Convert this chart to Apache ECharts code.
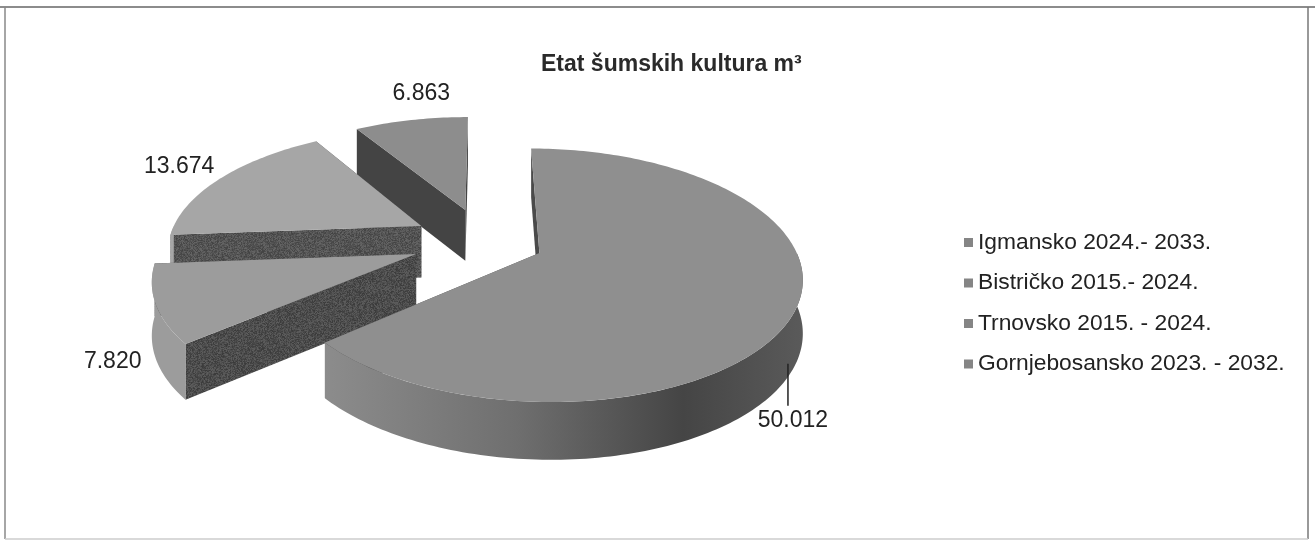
<!DOCTYPE html>
<html>
<head>
<meta charset="utf-8">
<style>html,body{margin:0;padding:0;background:#fff}#chart{width:1315px;height:541px}</style>
<script src="https://cdn.jsdelivr.net/npm/echarts@6/dist/echarts.min.js"></script>
</head>
<body>
<div id="chart"></div>
<script>
var categories = ['Igmansko 2024.- 2033.', 'Bistričko 2015.- 2024.', 'Trnovsko 2015. - 2024.', 'Gornjebosansko 2023. - 2032.'];
var values = [50012, 7820, 13674, 6863];
var valueLabels = ['50.012', '7.820', '13.674', '6.863'];

// 3D look: world disc seen through a simple perspective
var cx = 484, cy = 241, radius = 253, tilt = 0.469, dist = 5.8, depth = 52;
var explode = [60, 72, 72, 72];
var topColors = ['#8f8f8f', '#9c9c9c', '#a6a6a6', '#8d8d8d'];
var labelOffset = [[-3, 112], [-43, 58], [-42, -11], [10, -26]];
var drawOrder = [3, 2, 1, 0];

var total = values.reduce(function (a, b) { return a + b; }, 0);

// print grain of the scan on the dark faces
function grain(base, spread) {
    var c = document.createElement('canvas');
    c.width = c.height = 97;
    var g = c.getContext('2d');
    var seed = 12345;
    for (var y = 0; y < 97; y++) {
        for (var x = 0; x < 97; x++) {
            seed = (seed * 16807) % 2147483647;
            var v = Math.round(base + (seed / 2147483647 - 0.5) * spread);
            g.fillStyle = 'rgb(' + v + ',' + v + ',' + v + ')';
            g.fillRect(x, y, 1, 1);
        }
    }
    return { image: c, repeat: 'repeat' };
}
var wallFills = ['#4a4a4a', grain(76, 36), grain(84, 36), '#444444'];

function project(u, v, low) {
    var p = dist / (dist - v);
    return [cx + radius * u * p, cy + radius * tilt * v * p + (low ? depth * Math.sqrt(p) : 0)];
}

function sliceAngles(i) {
    var start = 0;
    for (var k = 0; k < i; k++) start += values[k];
    return [start / total * Math.PI * 2, (start + values[i]) / total * Math.PI * 2];
}

function renderSlice(i) {
    return function () {
        var a = sliceAngles(i);
        var mid = (a[0] + a[1]) / 2;
        var ou = Math.sin(mid) * explode[i] / radius;
        var ov = -Math.cos(mid) * explode[i] / radius;
        function rim(t, low) {
            return project(ou + Math.sin(t), ov - Math.cos(t), low);
        }
        function arc(from, to, low) {
            var pts = [];
            var steps = Math.ceil((to - from) / 0.02);
            for (var s = 0; s <= steps; s++) {
                pts.push(rim(from + (to - from) * s / steps, low));
            }
            return pts;
        }
        var apex = project(ou, ov, false);
        var apexLow = project(ou, ov, true);
        var rimFill = i === 0
            ? new echarts.graphic.LinearGradient(0, 0, 1, 0, [
                { offset: 0, color: '#8c8c8c' },
                { offset: 0.4, color: '#6f6f6f' },
                { offset: 0.75, color: '#454545' },
                { offset: 1, color: '#5a5a5a' }
            ])
            : topColors[i];
        var children = [
            { type: 'polygon', shape: { points: [apex, rim(a[0], false), rim(a[0], true), apexLow] }, style: { fill: wallFills[i] } },
            { type: 'polygon', shape: { points: [apex, rim(a[1], false), rim(a[1], true), apexLow] }, style: { fill: wallFills[i] } }
        ];
        // only the front half of the rim can be seen
        var rimFrom = Math.max(a[0], Math.PI / 2), rimTo = Math.min(a[1], Math.PI * 1.5);
        if (rimTo > rimFrom) {
            children.push({
                type: 'polygon',
                shape: { points: arc(rimFrom, rimTo, false).concat(arc(rimFrom, rimTo, true).reverse()) },
                style: { fill: rimFill }
            });
        }
        children.push({ type: 'polygon', shape: { points: [apex].concat(arc(a[0], a[1], false)) }, style: { fill: topColors[i] } });
        var anchor = rim(mid, false);
        var lx = anchor[0] + labelOffset[i][0], ly = anchor[1] + labelOffset[i][1];
        if (i === 0) {
            children.push({ type: 'line', shape: { x1: lx - 5, y1: ly - 57, x2: lx - 5, y2: ly - 15 }, style: { stroke: '#222', lineWidth: 1.5 } });
        }
        children.push({
            type: 'text', x: lx, y: ly,
            style: { text: valueLabels[i], fill: '#222', font: '23px "Liberation Sans"', align: 'center', verticalAlign: 'middle' }
        });
        return { type: 'group', children: children };
    };
}

var chart = echarts.init(document.getElementById('chart'));
var series = categories.map(function (name, i) {
    return {
        name: name,
        type: 'custom',
        coordinateSystem: 'none',
        z: 2 + drawOrder.indexOf(i),
        silent: true,
        itemStyle: { color: '#858585' },
        renderItem: renderSlice(i),
        data: [[values[i]]]
    };
});

function frameLine(x1, y1, x2, y2, color) {
    return { type: 'line', shape: { x1: x1, y1: y1, x2: x2, y2: y2 }, style: { stroke: color, lineWidth: 1.5 } };
}

chart.setOption({
    animation: false,
    backgroundColor: '#fff',
    title: {
        text: 'Etat šumskih kultura m³',
        left: 541, top: 53,
        padding: 0,
        textStyle: { fontFamily: 'Liberation Sans', fontWeight: 'bold', fontSize: 23, color: '#2a2a2a' }
    },
    legend: {
        data: categories,
        orient: 'vertical',
        left: 964, top: 231,
        padding: 0,
        icon: 'rect',
        itemWidth: 9, itemHeight: 9,
        itemGap: 17.5,
        selectedMode: false,
        textStyle: { fontFamily: 'Liberation Sans', fontSize: 22.8, color: '#222' }
    },
    graphic: [
        frameLine(0, 7, 1315, 7, '#666'),
        frameLine(5, 7, 5, 539, '#888'),
        frameLine(1308, 7, 1308, 539, '#777'),
        frameLine(5, 539, 1308, 539, '#ccc')
    ],
    series: series
});
</script>
</body>
</html>
